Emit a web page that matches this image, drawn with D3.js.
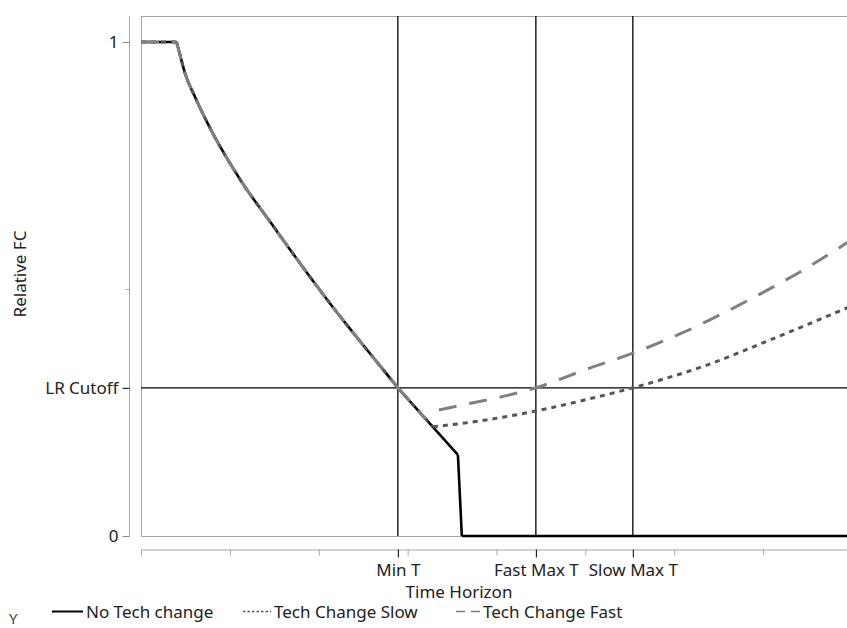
<!DOCTYPE html>
<html>
<head>
<meta charset="utf-8">
<script src="https://cdn.jsdelivr.net/npm/d3@7"></script>
<style>
  body { margin: 0; background: #fff; }
  text { font-family: "Noto Sans", "Open Sans", sans-serif; }
</style>
</head>
<body>
<div id="my_dataviz"></div>
<script>
// values (time units, relative FC)
var noTechChange = [[0, 1], [4.0, 1], [4.39, 0.974], [4.95, 0.937], [6.07, 0.889], [7.76, 0.826],
  [11.14, 0.722], [14.85, 0.628], [18.67, 0.533], [22.38, 0.445], [26.1, 0.362], [28.9, 0.30],
  [35.66, 0.164], [36.1, 0], [80, 0]];
var techChangeSlow = [[0, 1], [4.0, 1], [4.39, 0.974], [4.95, 0.937], [6.07, 0.889], [7.76, 0.826],
  [11.14, 0.722], [14.85, 0.628], [18.67, 0.533], [22.38, 0.445], [26.1, 0.362], [28.9, 0.30],
  [32.85, 0.221], [38.13, 0.233], [44.43, 0.253], [49.38, 0.273], [55.34, 0.30], [63.67, 0.346],
  [70.8, 0.397], [80, 0.466]];
var techChangeFast = [[0, 1], [4.0, 1], [4.39, 0.974], [4.95, 0.937], [6.07, 0.889], [7.76, 0.826],
  [11.14, 0.722], [14.85, 0.628], [18.67, 0.533], [22.38, 0.445], [26.1, 0.362], [28.9, 0.30],
  [32.0, 0.237], null, [33.52, 0.255], [35.55, 0.263], [40.38, 0.281], [44.43, 0.30], [50.5, 0.34],
  [55.34, 0.37], [60.63, 0.409], [68.84, 0.482], [74.1, 0.534], [80, 0.60]];
// x positions where each series has a sharp corner
var noTechKinks = [4.0, 28.9, 35.66, 36.1];
var slowKinks = [4.0, 28.9, 32.85];
var fastKinks = [4.0, 28.9, 32.0];

var xTicks = [0, 10, 20, 30, 40, 50, 60, 70, 80];
var xRefLabels = ["Min T", "Fast Max T", "Slow Max T"];
var xRefValues = [28.9, 44.43, 55.34];
var yTickLabels = ["0", "LR Cutoff", "1"];
var yTickValues = [0, 0.3, 1];
var yMinorTicks = [0.5];
var legendLabels = ["No Tech change", "Tech Change Slow", "Tech Change Fast"];

var W = 847, H = 628;
var plot = {left: 141, right: 852, top: 16, bottom: 536};

var svg = d3.select("#my_dataviz")
  .append("svg")
    .attr("width", W)
    .attr("height", H);

var x = d3.scaleLinear().domain([0, 80]).range([plot.left, plot.right]);
var y = d3.scaleLinear().domain([0, 1]).range([plot.bottom, 42]);

// plot frame
svg.append("rect")
  .attr("x", plot.left + 0.5).attr("y", plot.top + 0.5)
  .attr("width", plot.right - plot.left).attr("height", plot.bottom - plot.top)
  .attr("fill", "none").attr("stroke", "#a6a6a6").attr("stroke-width", 1);

// y axis (separate line left of frame)
var yAxisG = svg.append("g").attr("transform", "translate(129.5,0)");
yAxisG.append("line")
  .attr("y1", plot.top).attr("y2", plot.bottom + 1)
  .attr("stroke", "#a6a6a6");
yAxisG.call(d3.axisLeft(y).tickValues(yTickValues).tickFormat(function(d, i) { return yTickLabels[i]; }).tickSize(7).tickPadding(4))
  .call(function(g) { g.select(".domain").remove(); })
  .call(function(g) {
    g.selectAll(".tick line").attr("stroke", function(d) { return d === 0.3 ? "#000" : "#888"; });
    g.selectAll(".tick text").attr("font-size", "17px").attr("fill", "#222")
      .attr("font-family", "'Noto Sans', sans-serif");
  });
yAxisG.selectAll(".minor").data(yMinorTicks).enter().append("line")
  .attr("x1", -4).attr("x2", 0)
  .attr("y1", function(d) { return Math.round(y(d)) + 0.5; })
  .attr("y2", function(d) { return Math.round(y(d)) + 0.5; })
  .attr("stroke", "#aaa");

// x axis: numeric gray ticks + labelled reference ticks
var xAxisG = svg.append("g").attr("transform", "translate(0,549.5)");
xAxisG.call(d3.axisBottom(x).tickValues(xTicks).tickFormat("").tickSize(6).tickSizeOuter(0))
  .call(function(g) {
    g.select(".domain").attr("stroke", "#a6a6a6");
    g.selectAll(".tick line").attr("stroke", "#a6a6a6");
  });
var refAxisG = svg.append("g").attr("transform", "translate(0,549.5)");
refAxisG.call(d3.axisBottom(x).tickValues(xRefValues).tickFormat(function(d, i) { return xRefLabels[i]; }).tickSize(8).tickPadding(6))
  .call(function(g) {
    g.select(".domain").remove();
    g.selectAll(".tick line").attr("stroke", "#000");
    g.selectAll(".tick text").attr("font-size", "17px").attr("fill", "#222")
      .attr("font-family", "'Noto Sans', sans-serif");
  });

// reference lines
svg.selectAll(".vref").data(xRefValues).enter().append("line")
  .attr("x1", function(d) { return x(d); }).attr("x2", function(d) { return x(d); })
  .attr("y1", plot.top).attr("y2", plot.bottom)
  .attr("stroke", "#000").attr("stroke-width", 1.3);
svg.append("line")
  .attr("x1", plot.left).attr("x2", plot.right)
  .attr("y1", y(0.3)).attr("y2", y(0.3))
  .attr("stroke", "#000").attr("stroke-width", 1.3);

// the series: smooth between corners, straight into corners
var line = d3.line()
  .curve(d3.curveMonotoneX)
  .x(function(d) { return x(d[0]); })
  .y(function(d) { return y(d[1]); });

function seriesPath(data, kinks) {
  var pieces = [], cur = [];
  data.forEach(function(d) {
    if (d === null) { if (cur.length > 1) pieces.push(cur); cur = []; return; }
    cur.push(d);
    if (kinks.indexOf(d[0]) >= 0) { if (cur.length > 1) pieces.push(cur); cur = [d]; }
  });
  if (cur.length > 1) pieces.push(cur);
  return pieces.map(function(p) { return line(p); }).join("");
}

svg.append("path")
  .attr("fill", "none").attr("stroke", "#000").attr("stroke-width", 2.6)
  .attr("stroke-linejoin", "round")
  .attr("d", seriesPath(noTechChange, noTechKinks));
svg.append("path")
  .attr("fill", "none").attr("stroke", "#555").attr("stroke-width", 3)
  .attr("stroke-dasharray", "5,5")
  .attr("d", seriesPath(techChangeSlow, slowKinks));
svg.append("path")
  .attr("fill", "none").attr("stroke", "#808080").attr("stroke-width", 3)
  .attr("stroke-dasharray", "18,13")
  .attr("d", seriesPath(techChangeFast, fastKinks));

// axis titles
svg.append("text")
  .attr("x", 459).attr("y", 598)
  .attr("text-anchor", "middle")
  .attr("font-size", "17px").attr("fill", "#222")
  .text("Time Horizon");
svg.append("text")
  .attr("transform", "translate(26,274) rotate(-90)")
  .attr("text-anchor", "middle")
  .attr("font-size", "17px").attr("fill", "#222")
  .text("Relative FC");

// legend
svg.append("text").attr("x", 9).attr("y", 624).attr("font-size", "15px").attr("fill", "#444").text("Y");
var legendStyles = [
  {stroke: "#000", dash: null, x: 52, len: 31},
  {stroke: "#555", dash: "2.5,2", x: 243, len: 28},
  {stroke: "#808080", dash: "9,6", x: 456, len: 24}
];
var lg = svg.selectAll(".leg").data(legendLabels).enter().append("g")
  .attr("transform", function(d, i) { return "translate(" + legendStyles[i].x + ",611.5)"; });
lg.append("line")
  .attr("x1", 0).attr("x2", function(d, i) { return legendStyles[i].len; })
  .attr("stroke", function(d, i) { return legendStyles[i].stroke; })
  .attr("stroke-width", function(d, i) { return i === 0 ? 2 : 1.5; })
  .attr("stroke-dasharray", function(d, i) { return legendStyles[i].dash; });
lg.append("text")
  .attr("x", function(d, i) { return legendStyles[i].len + 3; }).attr("y", 6.5)
  .attr("font-size", "17px").attr("fill", "#222")
  .text(function(d) { return d; });
</script>
</body>
</html>
